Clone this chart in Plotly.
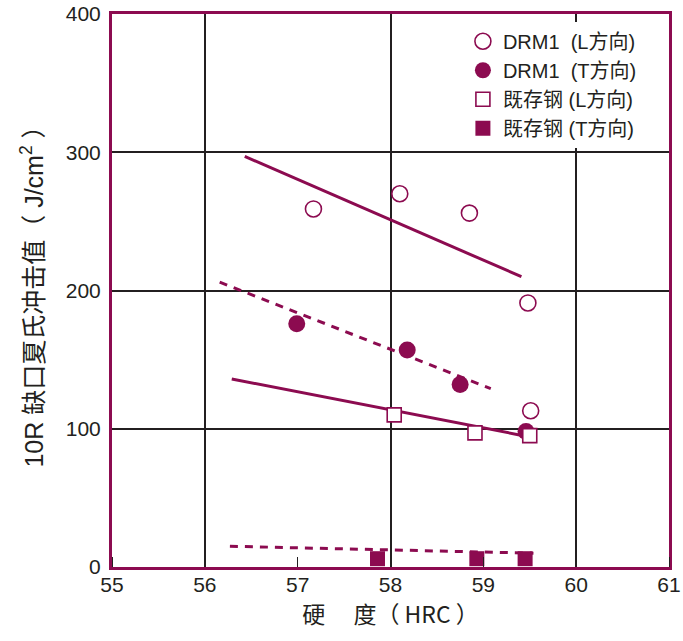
import plotly.graph_objects as go

# ---- data ----
drm1_L_x = [57.17, 58.10, 58.85, 59.48, 59.51]
drm1_L_y = [259, 270, 256, 191, 113]
drm1_T_x = [56.99, 58.18, 58.75, 59.46]
drm1_T_y = [176, 157, 132, 98]
std_L_x = [58.04, 58.91, 59.50]
std_L_y = [110, 97, 95]
std_T_x = [57.86, 58.93, 59.45]
std_T_y = [6, 6, 6]

# trend lines (end points)
trend_drm1_L_x = [56.43, 59.41]
trend_drm1_L_y = [297, 210]
trend_drm1_T_x = [56.16, 59.08]
trend_drm1_T_y = [206, 129]
trend_std_L_x = [56.29, 59.43]
trend_std_L_y = [136, 95]
trend_std_T_x = [56.27, 59.54]
trend_std_T_y = [15, 10]

names = ["DRM1  (L方向)", "DRM1  (T方向)", "既存钢 (L方向)", "既存钢 (T方向)"]
x_ticks = [55, 56, 57, 58, 59, 60, 61]

C = "#8C0B50"
INK = "#231F20"
FONT = "Liberation Sans, Noto Sans CJK SC, sans-serif"

fig = go.Figure()

# trend lines on base axis (drawn beneath markers)
for tx, ty, dash in [
    (trend_drm1_L_x, trend_drm1_L_y, "solid"),
    (trend_drm1_T_x, trend_drm1_T_y, "8px,7px"),
    (trend_std_L_x, trend_std_L_y, "solid"),
    (trend_std_T_x, trend_std_T_y, "8px,7px"),
]:
    fig.add_trace(go.Scatter(x=tx, y=ty, mode="lines", showlegend=False,
                             line=dict(color=C, width=3, dash=dash),
                             hoverinfo="skip", xaxis="x", yaxis="y"))

# markers on overlay axis (drawn on top)
fig.add_trace(go.Scatter(x=drm1_L_x, y=drm1_L_y, mode="markers", name=names[0],
                         marker=dict(symbol="circle", size=16, color="white",
                                     line=dict(color=C, width=1.6)),
                         xaxis="x2", yaxis="y"))
fig.add_trace(go.Scatter(x=drm1_T_x, y=drm1_T_y, mode="markers", name=names[1],
                         marker=dict(symbol="circle", size=17, color=C,
                                     line=dict(color=C, width=0)),
                         xaxis="x2", yaxis="y"))
fig.add_trace(go.Scatter(x=std_L_x, y=std_L_y, mode="markers", name=names[2],
                         marker=dict(symbol="square", size=14, color="white",
                                     line=dict(color=C, width=1.6)),
                         xaxis="x2", yaxis="y"))
fig.add_trace(go.Scatter(x=std_T_x, y=std_T_y, mode="markers", name=names[3],
                         marker=dict(symbol="square", size=15, color=C,
                                     line=dict(color=C, width=0)),
                         xaxis="x2", yaxis="y"))

fig.update_layout(
    width=683, height=641,
    margin=dict(l=112, r=14, t=14, b=74),
    paper_bgcolor="white", plot_bgcolor="white",
    font=dict(family=FONT, color=INK, size=21),
    showlegend=True,
    legend=dict(x=0.63, y=0.986, xanchor="left", yanchor="top",
                bgcolor="white", borderwidth=0,
                font=dict(size=20, color=INK, family=FONT),
                tracegroupgap=0),
    xaxis=dict(range=[55, 61], tickvals=x_ticks, ticks="", showgrid=False,
               zeroline=False, showline=True, mirror=True, linecolor=C, linewidth=3,
               tickfont=dict(size=21, color=INK), automargin=False,
               ticklabelstandoff=-3, ticklabeloverflow="allow",
               title=dict(text="硬\u3000 度（ HRC ）", font=dict(size=23, color=INK,
                          family="Noto Sans CJK SC, Liberation Sans"), standoff=10)),
    xaxis2=dict(range=[55, 61], overlaying="x", anchor="y", side="bottom",
                tick0=56, dtick=2, showgrid=True, gridcolor=INK, gridwidth=2,
                showticklabels=False, ticks="", zeroline=False, showline=False,
                automargin=False,
                minor=dict(ticks="inside", ticklen=10, tickcolor=INK, tickwidth=1,
                           dtick=1, tick0=55, showgrid=False)),
    yaxis=dict(range=[0, 400], dtick=100, showgrid=True, gridcolor=INK, gridwidth=2,
               ticks="", zeroline=False, showline=True, mirror=True, linecolor=C,
               linewidth=3, tickfont=dict(size=21, color=INK), automargin=False,
               ticklabelstandoff=4, ticklabeloverflow="allow",
               title=dict(text="10R 缺口夏氏冲击值（ J/cm<sup>2</sup> ）",
                          font=dict(size=25, color=INK,
                                    family="Liberation Sans, Noto Sans CJK SC"),
                          standoff=16)),
)

fig.write_html("out.html", config={"displayModeBar": False},
               post_script="document.body.style.margin='0';")
